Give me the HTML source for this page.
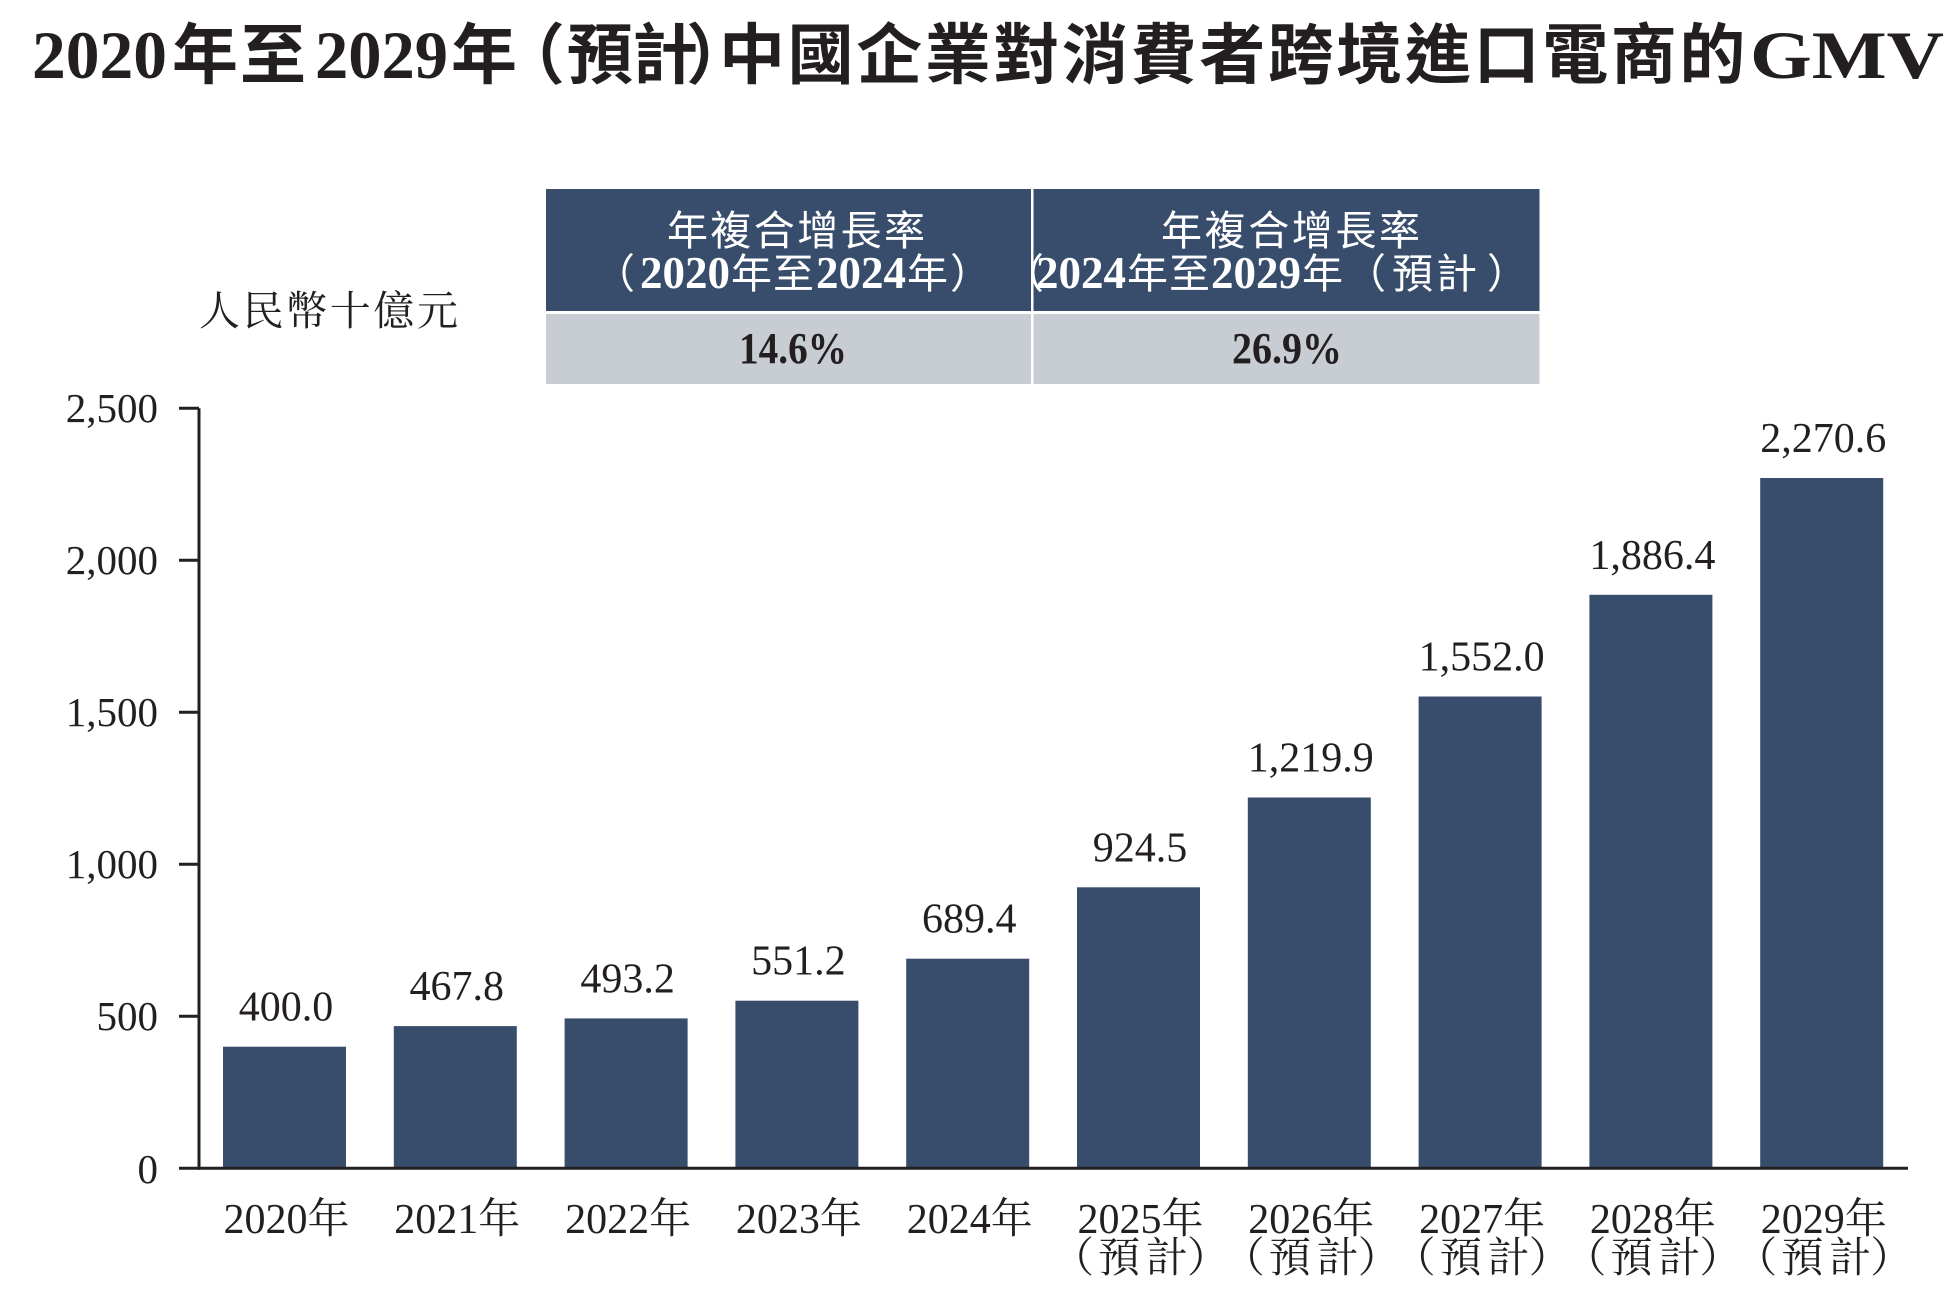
<!DOCTYPE html>
<html>
<head>
<meta charset="utf-8">
<style>
html,body{margin:0;padding:0;background:#fff;}
svg{display:block;}
</style>
</head>
<body>
<svg width="1953" height="1292" viewBox="0 0 1953 1292" xmlns="http://www.w3.org/2000/svg">
<rect x="0" y="0" width="1953" height="1292" fill="#ffffff"/>

<!-- Title -->
<g fill="#231f20">
<text x="32" y="78" font-family="Liberation Serif, serif" font-weight="700" font-size="68" textLength="135" lengthAdjust="spacingAndGlyphs">2020</text>
<text y="78" font-family="Noto Sans CJK TC, Noto Sans CJK SC, sans-serif" font-weight="700" font-size="66" x="172 240">年至</text>
<text x="315" y="78" font-family="Liberation Serif, serif" font-weight="700" font-size="68" textLength="133" lengthAdjust="spacingAndGlyphs">2029</text>
<text y="78" font-family="Noto Sans CJK TC, Noto Sans CJK SC, sans-serif" font-weight="700" font-size="66" x="451 499 567 632 686 719 787.6 856.2 924.8 993.4 1062 1130.6 1199.2 1267.8 1336.4 1405 1473.6 1542.2 1610.8 1679.4">年（預計）中國企業對消費者跨境進口電商的</text>
<text x="1750" y="78" font-family="Liberation Serif, serif" font-weight="700" font-size="68" textLength="194" lengthAdjust="spacingAndGlyphs">GMV</text>
</g>

<!-- CAGR table -->
<rect x="546" y="189" width="485" height="122" fill="#384d6c"/>
<rect x="1033.5" y="189" width="506" height="122" fill="#384d6c"/>
<rect x="546" y="314" width="485" height="70" fill="#c8ccd3"/>
<rect x="1033.5" y="314" width="506" height="70" fill="#c8ccd3"/>

<g fill="#ffffff">
<text x="667" y="245" font-family="Noto Sans CJK TC, Noto Sans CJK SC, sans-serif" font-size="41" textLength="258" lengthAdjust="spacing">年複合增長率</text>
<text x="1161" y="245" font-family="Noto Sans CJK TC, Noto Sans CJK SC, sans-serif" font-size="41" textLength="259" lengthAdjust="spacing">年複合增長率</text>

<text y="288" font-family="Noto Sans CJK TC, Noto Sans CJK SC, sans-serif" font-size="41" x="594">（</text>
<text x="640" y="288" font-family="Liberation Serif, serif" font-weight="700" font-size="45">2020</text>
<text y="288" font-family="Noto Sans CJK TC, Noto Sans CJK SC, sans-serif" font-size="41" x="731 773">年至</text>
<text x="816" y="288" font-family="Liberation Serif, serif" font-weight="700" font-size="45">2024</text>
<text y="288" font-family="Noto Sans CJK TC, Noto Sans CJK SC, sans-serif" font-size="41" x="907 950">年）</text>

<text y="288" font-family="Noto Sans CJK TC, Noto Sans CJK SC, sans-serif" font-size="41" x="1003">（</text>
<text x="1036" y="288" font-family="Liberation Serif, serif" font-weight="700" font-size="45">2024</text>
<text y="288" font-family="Noto Sans CJK TC, Noto Sans CJK SC, sans-serif" font-size="41" x="1127 1169">年至</text>
<text x="1211" y="288" font-family="Liberation Serif, serif" font-weight="700" font-size="45">2029</text>
<text y="288" font-family="Noto Sans CJK TC, Noto Sans CJK SC, sans-serif" font-size="41" x="1302 1345 1392 1436 1487">年（預計）</text>
</g>

<g fill="#231f20" font-family="Liberation Serif, serif" font-weight="700">
<text x="739" y="363" font-size="44" textLength="108" lengthAdjust="spacingAndGlyphs">14.6%</text>
<text x="1232" y="363" font-size="44" textLength="110" lengthAdjust="spacingAndGlyphs">26.9%</text>
</g>

<!-- Unit label -->
<text x="199" y="325" fill="#231f20" font-family="Liberation Serif, Noto Serif CJK SC, serif" font-size="41" textLength="259" lengthAdjust="spacing">人民幣十億元</text>

<!-- Bars -->
<g fill="#384d6c">
<rect x="223" y="1046.7" width="123" height="121.6"/>
<rect x="393.8" y="1026.1" width="123" height="142.2"/>
<rect x="564.6" y="1018.4" width="123" height="149.9"/>
<rect x="735.4" y="1000.7" width="123" height="167.6"/>
<rect x="906.2" y="958.7" width="123" height="209.6"/>
<rect x="1077" y="887.3" width="123" height="281"/>
<rect x="1247.8" y="797.5" width="123" height="370.8"/>
<rect x="1418.6" y="696.5" width="123" height="471.8"/>
<rect x="1589.4" y="594.8" width="123" height="573.5"/>
<rect x="1760.2" y="478.0" width="123" height="690.3"/>
</g>

<!-- Axes -->
<g stroke="#231f20" stroke-width="3" fill="none">
<line x1="199" y1="408.3" x2="199" y2="1169.8"/>
<line x1="179" y1="1168.3" x2="1908" y2="1168.3"/>
<line x1="179" y1="408.3" x2="199" y2="408.3"/>
<line x1="179" y1="560.3" x2="199" y2="560.3"/>
<line x1="179" y1="712.3" x2="199" y2="712.3"/>
<line x1="179" y1="864.3" x2="199" y2="864.3"/>
<line x1="179" y1="1016.3" x2="199" y2="1016.3"/>
</g>

<!-- Y tick labels -->
<g fill="#231f20" font-family="Liberation Serif, serif" font-size="41" text-anchor="end">
<text x="158" y="422">2,500</text>
<text x="158" y="574">2,000</text>
<text x="158" y="726">1,500</text>
<text x="158" y="878">1,000</text>
<text x="158" y="1030">500</text>
<text x="158" y="1183">0</text>
</g>

<!-- Value labels -->
<g fill="#231f20" font-family="Liberation Serif, serif" font-size="42" text-anchor="middle">
<text x="286" y="1020.7">400.0</text>
<text x="456.8" y="1000.1">467.8</text>
<text x="627.6" y="992.4">493.2</text>
<text x="798.4" y="974.7">551.2</text>
<text x="969.2" y="932.7">689.4</text>
<text x="1140" y="861.3">924.5</text>
<text x="1310.8" y="771.5">1,219.9</text>
<text x="1481.6" y="670.5">1,552.0</text>
<text x="1652.4" y="568.8">1,886.4</text>
<text x="1823.2" y="452.0">2,270.6</text>
</g>

<!-- X labels -->
<g fill="#231f20" font-family="Liberation Serif, Noto Serif CJK SC, serif" font-size="42" text-anchor="middle">
<text x="286.5" y="1233">2020年</text>
<text x="457.3" y="1233">2021年</text>
<text x="628.1" y="1233">2022年</text>
<text x="798.9" y="1233">2023年</text>
<text x="969.7" y="1233">2024年</text>
<text x="1140.5" y="1233">2025年</text>
<text x="1311.3" y="1233">2026年</text>
<text x="1482.1" y="1233">2027年</text>
<text x="1652.9" y="1233">2028年</text>
<text x="1823.7" y="1233">2029年</text>
</g>
<g fill="#231f20" font-family="Liberation Serif, Noto Serif CJK SC, serif" font-size="42">
<text y="1272" x="1052 1098 1146 1187">（預計）</text>
<text y="1272" x="1222.8 1268.8 1316.8 1357.8">（預計）</text>
<text y="1272" x="1393.6 1439.6 1487.6 1528.6">（預計）</text>
<text y="1272" x="1564.4 1610.4 1658.4 1699.4">（預計）</text>
<text y="1272" x="1735.2 1781.2 1829.2 1870.2">（預計）</text>
</g>
</svg>
</body>
</html>
